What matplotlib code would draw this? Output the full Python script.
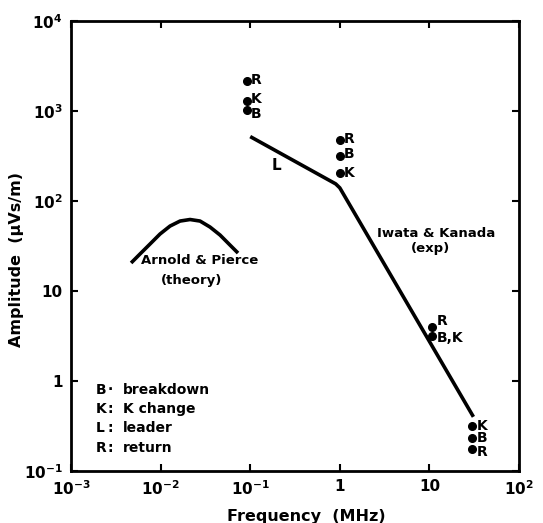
import matplotlib
matplotlib.use('Agg')
import matplotlib.pyplot as plt
from matplotlib.ticker import FixedLocator, FixedFormatter, NullLocator

plt.rcParams['font.family'] = ['DejaVu Sans']
plt.rcParams['font.weight'] = 'bold'
plt.rcParams['mathtext.default'] = 'bf'

# --- data ---
# Iwata & Kanada (exp) : leader segment + steep fall
iwata_f = [0.1, 0.9, 1.0, 31.0]
iwata_a = [520, 155, 140, 0.40]

# Arnold & Pierce (theory) hump
arnold_f = [0.00468, 0.00589, 0.00762, 0.00985, 0.01274, 0.01648,
            0.0213, 0.02754, 0.03559, 0.04603, 0.0595, 0.0731]
arnold_a = [20.5, 25.8, 33.3, 43.0, 52.7, 59.9,
            62.3, 59.9, 51.4, 41.9, 32.4, 26.4]

# measured points: frequency, amplitude, label
pts_f = [0.092, 0.092, 0.092, 1.0, 1.0, 1.0, 10.8, 10.8, 30, 30, 30]
pts_a = [2150, 1300, 1025, 476, 318, 203, 4.0, 3.2, 0.318, 0.231, 0.174]
pts_lab = ['R', 'K', 'B', 'R', 'B', 'K', 'R', 'B,K', 'K', 'B', 'R']
# small vertical nudges of the labels (points) so they sit like the original
pts_dy = [1, 1, -3, 1, 1, 0, 4, -2, 0, 0, -2]

xticks = [1e-3, 1e-2, 1e-1, 1, 10, 100]
xlabels = ['$10^{-3}$', '$10^{-2}$', '$10^{-1}$', '1', '10', '$10^{2}$']
yticks = [1e-1, 1, 10, 100, 1e3, 1e4]
ylabels = ['$10^{-1}$', '1', '10', '$10^{2}$', '$10^{3}$', '$10^{4}$']

legend_lines = [('B', '·', 'breakdown'), ('K', ':', 'K change'),
                ('L', ':', 'leader'), ('R', ':', 'return')]

fig = plt.figure(figsize=(5.43, 5.23), dpi=100)
ax = fig.add_axes([0.1308, 0.0994, 0.8250, 0.8604])

ax.set_xscale('log')
ax.set_yscale('log')
ax.set_xlim(1e-3, 1e2)
ax.set_ylim(1e-1, 1e4)

ax.plot(iwata_f, iwata_a, color='black', lw=2.6, solid_capstyle='butt')
ax.plot(arnold_f, arnold_a, color='black', lw=2.6, solid_capstyle='butt',
        solid_joinstyle='round')
ax.plot(pts_f, pts_a, 'o', color='black', ms=5.5)

for f, a, lab, dy in zip(pts_f, pts_a, pts_lab, pts_dy):
    ax.annotate(lab, (f, a), xytext=(3, dy), textcoords='offset points',
                ha='left', va='center', fontsize=10, fontweight='bold')

ax.text(0.198, 251, 'L', fontsize=11, fontweight='bold', ha='center', va='center')
ax.text(12.0, 43.7, 'Iwata & Kanada', fontsize=9.5, ha='center', va='center')
ax.text(10.2, 29.8, '(exp)', fontsize=9.5, ha='center', va='center')
ax.text(0.0275, 22.1, 'Arnold & Pierce', fontsize=9.5, ha='center', va='center')
ax.text(0.0224, 13.2, '(theory)', fontsize=9.5, ha='center', va='center')

# key in the lower-left corner
for i, (k, sep, word) in enumerate(legend_lines):
    yy = 0.181 - i * 0.043
    ax.text(0.056, yy, k, transform=ax.transAxes, fontsize=10, va='center')
    ax.text(0.082, yy, sep, transform=ax.transAxes, fontsize=10, va='center')
    ax.text(0.115, yy, word, transform=ax.transAxes, fontsize=10, va='center')

for s in ax.spines.values():
    s.set_linewidth(2.0)

ax.xaxis.set_major_locator(FixedLocator(xticks))
ax.xaxis.set_major_formatter(FixedFormatter(xlabels))
ax.yaxis.set_major_locator(FixedLocator(yticks))
ax.yaxis.set_major_formatter(FixedFormatter(ylabels))
ax.xaxis.set_minor_locator(NullLocator())
ax.yaxis.set_minor_locator(NullLocator())
ax.tick_params(which='major', direction='in', length=5, width=1.5,
               top=True, right=True, labelsize=11, pad=6)

ax.set_xlabel('Frequency  (MHz)', fontsize=11.5, fontweight='bold')
ax.set_ylabel('Amplitude  (µVs/m)', fontsize=11.5, fontweight='bold')
ax.xaxis.set_label_coords(0.525, -0.085)
ax.yaxis.set_label_coords(-0.105, 0.47)

fig.savefig('out.png', dpi=100)
